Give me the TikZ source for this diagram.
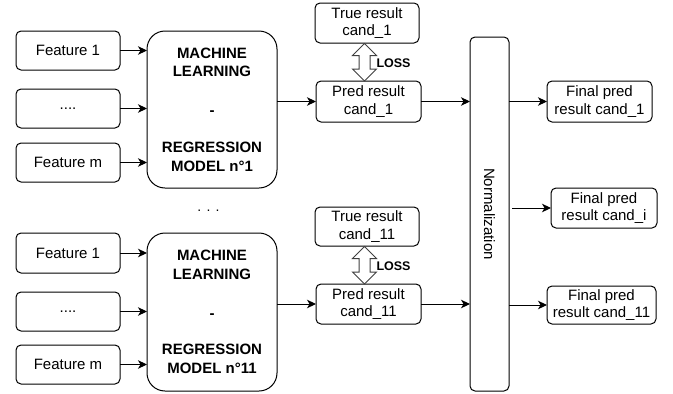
\documentclass[tikz,border=0pt]{standalone}
\usepackage{fontspec}
\setmainfont{Liberation Sans}
\usetikzlibrary{arrows.meta,calc}
\begin{document}
\begin{tikzpicture}[x=1pt,y=-1pt,
  every node/.style={inner sep=0pt,outer sep=0pt},
  box/.style={draw=black,line width=1pt,rounded corners=5pt,align=center,
    font=\fontsize{15}{17.5}\selectfont,text=black},
  mlbox/.style={draw=black,line width=1pt,rounded corners=18pt,align=center,
    minimum width=130pt,font=\bfseries\fontsize{15}{18.8}\selectfont},
  arr/.style={draw=black,line width=1pt,-{Stealth[length=9pt,width=8.5pt,inset=2.5pt]}},
  lossarrow/.style={draw=black!75,line width=1pt,fill=white,line join=miter},
  losslbl/.style={font=\bfseries\fontsize{12.5}{14}\selectfont,anchor=west}
]
\useasboundingbox (0,0) rectangle (673,394);

% ---------- top group ----------
\node[box,minimum width=104pt,minimum height=39pt] (f1a) at (68,50.5) {Feature 1};
\node[box,minimum width=104pt,minimum height=39pt] (f2a) at (68,108.5) {....};
\node[box,minimum width=104pt,minimum height=39pt] (fma) at (68,162.5) {Feature m};
\node[mlbox,minimum height=157pt] (mla) at (212,109.5)
  {MACHINE\\LEARNING\\[20pt]-\\[18pt]REGRESSION\\MODEL n°1};

\node[box,minimum width=104pt,minimum height=40pt] (truea) at (367,23) {True result\\cand\_1};
\node[box,minimum width=105pt,minimum height=41pt] (preda) at (368.5,101.5) {Pred result\\cand\_1};

% ---------- bottom group ----------
\node[box,minimum width=104pt,minimum height=40pt] (f1b) at (68,253) {Feature 1};
\node[box,minimum width=104pt,minimum height=39pt] (f2b) at (68,311.5) {....};
\node[box,minimum width=104pt,minimum height=39pt] (fmb) at (68,364.5) {Feature m};
\node[mlbox,minimum height=158pt] (mlb) at (212,312)
  {MACHINE\\LEARNING\\[20pt]-\\[18pt]REGRESSION\\MODEL n°11};

\node[box,minimum width=104pt,minimum height=39pt] (trueb) at (367,226.5) {True result\\cand\_11};
\node[box,minimum width=105pt,minimum height=40pt] (predb) at (368.5,304) {Pred result\\cand\_11};

\node[font=\fontsize{14}{16}\selectfont] (dots) at (208.5,211) {. . .};

% ---------- normalization ----------
\node[box,minimum width=39pt,minimum height=354pt] (norm) at (489.5,214) {};
\node[rotate=-90,font=\fontsize{15}{17.5}\selectfont] (normtxt) at (norm.center) {Normalization};

\node[box,minimum width=105pt,minimum height=41pt] (fina) at (599.5,101.5) {Final pred\\result cand\_1};
\node[box,minimum width=106pt,minimum height=40pt] (fini) at (604,208) {Final pred\\result cand\_i};
\node[box,minimum width=109pt,minimum height=38pt] (finb) at (601.5,305) {Final pred\\result cand\_11};

% ---------- connectors ----------
\foreach \f in {f1a,f2a,fma}{\draw[arr] (\f.east) -- (\f.east -| mla.west);}
\foreach \f in {f1b,f2b,fmb}{\draw[arr] (\f.east) -- (\f.east -| mlb.west);}
\draw[arr] (mla.east |- preda.west) -- (preda.west);
\draw[arr] (mlb.east |- predb.west) -- (predb.west);
\draw[arr] (preda.east) -- (preda.east -| norm.west);
\draw[arr] (predb.east) -- (predb.east -| norm.west);
\draw[arr] (norm.east |- fina.west) -- (fina.west);
\draw[arr,shorten <=3pt] (norm.east |- fini.west) -- (fini.west);
\draw[arr] (norm.east |- finb.west) -- (finb.west);

% ---------- loss arrows ----------
\coordinate (la) at ($(truea.south)+(-2.5,0.5)$);
\coordinate (lb) at ($(trueb.south)+(-2.5,0.5)$);
\foreach \c/\L in {la/37.5,lb/37.5}{
  \draw[lossarrow] ($(\c)$) -- ++(12,12) -- ++(-6.5,0) -- ++(0,\L-24) -- ++(6.5,0)
    -- ++(-12,12) -- ++(-12,-12) -- ++(6.5,0) -- ++(0,-\L+24) -- ++(-6.5,0) -- cycle;
}
\node[losslbl] (lossa) at ($(la)+(12,19.5)$) {LOSS};
\node[losslbl] (lossb) at ($(lb)+(12,19.5)$) {LOSS};
\end{tikzpicture}
\end{document}
